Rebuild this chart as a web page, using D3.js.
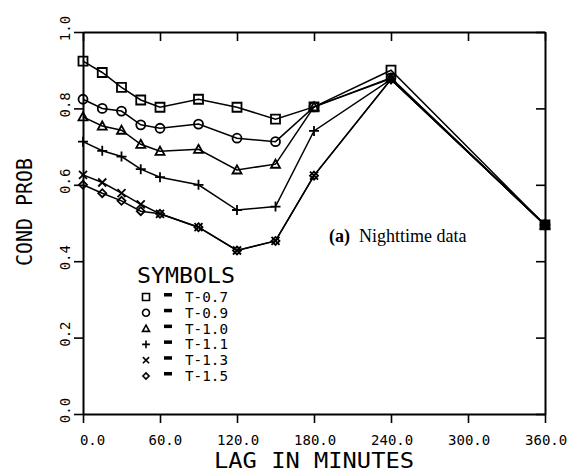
<!DOCTYPE html>
<html>
<head>
<meta charset="utf-8">
<script src="https://cdn.jsdelivr.net/npm/d3@7"></script>
<style>
    body { margin: 0; background: #fff; }
    svg { display: block; }
    .axis path, .axis line { stroke: #000; }
    .axis text { font-family: "DejaVu Sans Mono", monospace; font-size: 14px; fill: #000; }
</style>
</head>
<body>
<div id="chart"></div>
<script>
// lag in minutes
const lags = [0, 15, 30, 45, 60, 90, 120, 150, 180, 240, 360];

// conditional probability per threshold
const seriesNames = ['T-0.7', 'T-0.9', 'T-1.0', 'T-1.1', 'T-1.3', 'T-1.5'];
const t07 = [0.924, 0.894, 0.855, 0.822, 0.803, 0.824, 0.803, 0.772, 0.804, 0.900, 0.495];
const t09 = [0.824, 0.800, 0.793, 0.757, 0.748, 0.759, 0.722, 0.713, 0.804, 0.880, 0.495];
const t10 = [0.778, 0.754, 0.743, 0.706, 0.688, 0.693, 0.639, 0.654, 0.804, 0.878, 0.495];
const t11 = [0.713, 0.689, 0.674, 0.641, 0.620, 0.600, 0.534, 0.543, 0.741, 0.876, 0.495];
const t13 = [0.626, 0.606, 0.578, 0.549, 0.524, 0.489, 0.428, 0.453, 0.624, 0.876, 0.495];
const t15 = [0.600, 0.578, 0.558, 0.531, 0.524, 0.489, 0.428, 0.453, 0.624, 0.876, 0.495];

const xTicks = [0, 60, 120, 180, 240, 300, 360];
const yTicks = [0, 0.2, 0.4, 0.6, 0.8, 1.0];

const width = 577;
const height = 474;
const margin = {top: 32, right: 32, bottom: 60, left: 83};

// plotter style symbols
const plusType = {
    draw(ctx, size) {
        const r = Math.sqrt(size) / 2;
        ctx.moveTo(-r, 0); ctx.lineTo(r, 0);
        ctx.moveTo(0, -r); ctx.lineTo(0, r);
    },
};
const xType = {
    draw(ctx, size) {
        const r = Math.sqrt(size) / 2;
        ctx.moveTo(-r, -r); ctx.lineTo(r, r);
        ctx.moveTo(-r, r); ctx.lineTo(r, -r);
    },
};
const diamondType = {
    draw(ctx, size) {
        const r = Math.sqrt(size) / 2;
        ctx.moveTo(0, -r); ctx.lineTo(r, 0); ctx.lineTo(0, r); ctx.lineTo(-r, 0);
        ctx.closePath();
    },
};
const triangleType = {
    draw(ctx, size) {
        const r = Math.sqrt(size) / 2;
        ctx.moveTo(0, -r); ctx.lineTo(r, r * 0.8); ctx.lineTo(-r, r * 0.8);
        ctx.closePath();
    },
};
const squareType = {
    draw(ctx, size) {
        const r = Math.sqrt(size) / 2;
        ctx.rect(-r, -r, 2 * r, 2 * r);
    },
};
const circleType = {
    draw(ctx, size) {
        const r = Math.sqrt(size) / 2;
        ctx.moveTo(r, 0);
        ctx.arc(0, 0, r, 0, 2 * Math.PI);
    },
};

const series = [
    {name: seriesNames[0], values: t07, type: squareType, size: 81},
    {name: seriesNames[1], values: t09, type: circleType, size: 81},
    {name: seriesNames[2], values: t10, type: triangleType, size: 81},
    {name: seriesNames[3], values: t11, type: plusType, size: 100},
    {name: seriesNames[4], values: t13, type: xType, size: 64},
    {name: seriesNames[5], values: t15, type: diamondType, size: 64},
];

const svg = d3.select('#chart')
    .append('svg')
    .attr('width', width)
    .attr('height', height);

const x = d3.scaleLinear()
    .domain([0, 360])
    .range([margin.left, width - margin.right]);

const y = d3.scaleLinear()
    .domain([0, 1])
    .range([height - margin.bottom, margin.top]);

// bottom axis, ticks outward, labels right aligned like the plotter
const xAxis = svg.append('g')
    .attr('class', 'axis')
    .attr('transform', 'translate(0,' + y(0) + ')')
    .call(d3.axisBottom(x).tickValues(xTicks).tickSize(9).tickSizeOuter(0)
        .tickFormat(d3.format('.1f')));
xAxis.selectAll('text')
    .attr('text-anchor', 'end')
    .attr('dx', '1.55em')
    .attr('y', 21);

// left axis, labels rotated
const yAxis = svg.append('g')
    .attr('class', 'axis')
    .attr('transform', 'translate(' + x(0) + ',0)')
    .call(d3.axisLeft(y).tickValues(yTicks).tickSize(9).tickSizeOuter(0)
        .tickFormat(d3.format('.1f')));
yAxis.selectAll('text')
    .attr('x', 0)
    .attr('y', 0)
    .attr('dy', null)
    .attr('text-anchor', 'middle')
    .attr('transform', 'translate(-13,-4) rotate(-90)');

// top and right axes, ticks pointing inward
svg.append('g')
    .attr('class', 'axis')
    .attr('transform', 'translate(0,' + y(1) + ')')
    .call(d3.axisTop(x).tickValues(xTicks).tickSize(-9).tickSizeOuter(0).tickFormat(''));

svg.append('g')
    .attr('class', 'axis')
    .attr('transform', 'translate(' + x(360) + ',0)')
    .call(d3.axisRight(y).tickValues(yTicks).tickSize(-9).tickSizeOuter(0).tickFormat(''));

svg.selectAll('.axis path.domain').attr('stroke-width', 2);
svg.selectAll('.axis line').attr('stroke-width', 1.6);

// axis titles
svg.append('text')
    .attr('x', x(180))
    .attr('y', 468)
    .attr('text-anchor', 'middle')
    .attr('font-family', 'DejaVu Sans Mono, monospace')
    .attr('font-size', 21)
    .attr('textLength', 200)
    .attr('lengthAdjust', 'spacingAndGlyphs')
    .text('LAG IN MINUTES');

svg.append('text')
    .attr('transform', 'translate(32,' + 212 + ') rotate(-90)')
    .attr('text-anchor', 'middle')
    .attr('font-family', 'DejaVu Sans Mono, monospace')
    .attr('font-size', 21)
    .attr('textLength', 108)
    .attr('lengthAdjust', 'spacingAndGlyphs')
    .text('COND PROB');

// lines
const line = d3.line()
    .x((d, i) => x(lags[i]))
    .y((d) => y(d));

const plot = svg.append('g');

series.forEach((s) => {
    plot.append('path')
        .datum(s.values)
        .attr('fill', 'none')
        .attr('stroke', '#000')
        .attr('stroke-width', 1.5)
        .attr('d', line);
});

series.forEach((s) => {
    const sym = d3.symbol().type(s.type).size(s.size);
    plot.selectAll(null)
        .data(s.values)
        .enter()
        .append('path')
        .attr('transform', (d, i) => 'translate(' + x(lags[i]) + ',' + y(d) + ')')
        .attr('d', sym)
        .attr('fill', 'none')
        .attr('stroke', '#000')
        .attr('stroke-width', 1.8);
});

// legend
const legend = svg.append('g');
legend.append('text')
    .attr('x', 137)
    .attr('y', 283)
    .attr('font-family', 'DejaVu Sans Mono, monospace')
    .attr('font-size', 22)
    .attr('textLength', 98)
    .attr('lengthAdjust', 'spacingAndGlyphs')
    .text('SYMBOLS');

const rowY = d3.scaleLinear().domain([0, series.length - 1]).range([297, 376]);

series.forEach((s, i) => {
    const cy = rowY(i);
    legend.append('path')
        .attr('transform', 'translate(146,' + cy + ')')
        .attr('d', d3.symbol().type(s.type).size(s.size * 0.6))
        .attr('fill', 'none')
        .attr('stroke', '#000')
        .attr('stroke-width', 1.6);
    legend.append('rect')
        .attr('x', 164)
        .attr('y', cy - 4)
        .attr('width', 8)
        .attr('height', 3.5)
        .attr('fill', '#000');
    legend.append('text')
        .attr('x', 185)
        .attr('y', cy + 5)
        .attr('font-family', 'DejaVu Sans Mono, monospace')
        .attr('font-size', 14)
        .attr('textLength', 43)
        .attr('lengthAdjust', 'spacingAndGlyphs')
        .text(s.name);
});

// panel note
const note = svg.append('text')
    .attr('x', 329)
    .attr('y', 242)
    .attr('font-family', 'Liberation Serif, Times New Roman, serif')
    .attr('font-size', 18);
note.append('tspan').attr('font-weight', 'bold').text('(a)');
note.append('tspan').text('\u00a0 Nighttime data');
</script>
</body>
</html>
